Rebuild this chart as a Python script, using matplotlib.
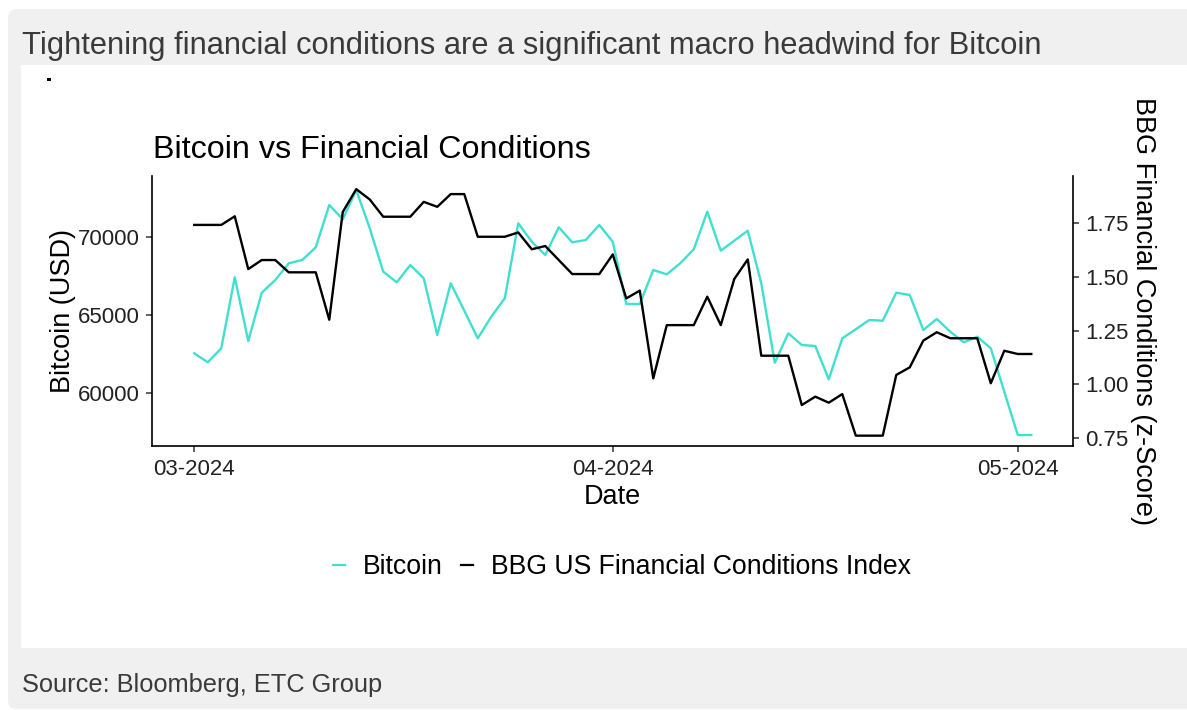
import matplotlib
matplotlib.use("Agg")
import matplotlib.pyplot as plt
import matplotlib.dates as mdates
from matplotlib.patches import FancyBboxPatch, Rectangle
from matplotlib.lines import Line2D
import pandas as pd

plt.rcParams["font.family"] = ["Liberation Sans", "DejaVu Sans"]

# daily values, 2024-03-01 .. 2024-05-02
dates = pd.date_range("2024-03-01", "2024-05-02", freq="D")

bitcoin = [
    62535, 61956, 62857, 67426, 63327, 66435, 67252, 68327, 68539, 69356,
    72079, 71158, 73044, 70579, 67786, 67104, 68217, 67362, 63712, 67040,
    65277, 63500, 64890, 66074, 70900, 69717, 68861, 70643, 69678, 69826,
    70792, 69717, 65708, 65708, 67896, 67617, 68327, 69228, 71647, 69138,
    69781, 70425, 67040, 61930, 63822, 63069, 63005, 60862, 63500, 64080,
    64678, 64633, 66435, 66287, 64035, 64742, 63925, 63243, 63603, 62857,
    60064, 57277, 57277,
]

bbg_fci = [
    1.740, 1.740, 1.740, 1.780, 1.535, 1.577, 1.577, 1.520, 1.520, 1.520,
    1.300, 1.800, 1.906, 1.858, 1.778, 1.778, 1.778, 1.847, 1.824, 1.883,
    1.883, 1.685, 1.685, 1.685, 1.705, 1.627, 1.642, 1.577, 1.512, 1.512,
    1.512, 1.603, 1.399, 1.435, 1.028, 1.275, 1.275, 1.275, 1.407, 1.275,
    1.489, 1.580, 1.133, 1.133, 1.133, 0.904, 0.943, 0.915, 0.955, 0.762,
    0.762, 0.762, 1.044, 1.079, 1.203, 1.242, 1.214, 1.214, 1.214, 1.005,
    1.156, 1.141, 1.141,
]

btc_ticks = [60000, 65000, 70000]
fci_ticks = [0.75, 1.00, 1.25, 1.50, 1.75]

TEAL = "#40E0D0"
GREY_BG = "#f0f0f0"
TXT = "#3a3a3a"

fig = plt.figure(figsize=(11.87, 7.10), dpi=100, facecolor="white")

# page background: grey rounded card with white chart panel
card = FancyBboxPatch((0.08, 0.01), 12.5, 7.0,
                      boxstyle="round,pad=0,rounding_size=0.09",
                      transform=fig.dpi_scale_trans,
                      facecolor=GREY_BG, edgecolor="none", zorder=-20)
fig.patches.append(card)
panel = Rectangle((0.21, 0.62), 12.0, 5.83, transform=fig.dpi_scale_trans,
                  facecolor="white", edgecolor="none", zorder=-19)
fig.patches.append(panel)
fig.add_artist(Rectangle((0.47, 6.29), 0.035, 0.03, transform=fig.dpi_scale_trans,
                         facecolor="black", edgecolor="none"))

fig.text(22 / 1187, 0.9235, "Tightening financial conditions are a significant macro headwind for Bitcoin",
         fontsize=22.2, color=TXT, ha="left", va="baseline")
fig.text(22 / 1187, 0.0258, "Source: Bloomberg, ETC Group",
         fontsize=18.3, color=TXT, ha="left", va="baseline")

ax = fig.add_axes([152 / 1187, 1 - 446 / 710, 921 / 1187, 270 / 710])
ax2 = ax.twinx()
for a in (ax, ax2):
    a.set_facecolor("none")
    a.spines["top"].set_visible(False)
    for s in a.spines.values():
        s.set_linewidth(1.2)
        s.set_color("black")

ax.plot(dates, bitcoin, color=TEAL, lw=1.7, label="Bitcoin")
ax2.plot(dates, bbg_fci, color="black", lw=1.7, label="BBG US Financial Conditions Index")

start = pd.Timestamp("2024-03-01")
ax.set_xlim(start - pd.Timedelta(days=3.13), start + pd.Timedelta(days=65.09))
ax.set_ylim(56570, 73945)
ax2.set_ylim(0.714, 1.967)

ax.xaxis.set_major_locator(mdates.MonthLocator())
ax.xaxis.set_major_formatter(mdates.DateFormatter("%m-%Y"))
ax.set_yticks(btc_ticks)
ax.set_yticklabels([str(t) for t in btc_ticks])
ax2.set_yticks(fci_ticks)
ax2.set_yticklabels([f"{t:.2f}" for t in fci_ticks])

ax.spines["right"].set_visible(False)
ax2.spines["left"].set_visible(False)
ax2.spines["bottom"].set_visible(False)

for a in (ax, ax2):
    a.tick_params(axis="both", length=4, width=1.1, color="#333333",
                  labelsize=16, labelcolor="#222222", pad=5)

ax.set_ylabel("Bitcoin (USD)", fontsize=19.5, color="black", va="center")
ax.yaxis.set_label_coords(-0.0966, 0.5)
ax.set_xlabel("Date", fontsize=19.5, color="black", va="center")
ax.xaxis.set_label_coords(0.5, -0.189)
ax2.set_ylabel("BBG Financial Conditions (z-Score)", fontsize=19.5, color="black",
               rotation=270, va="center")
ax2.yaxis.set_label_coords(1.076, 0.5)

fig.text(153 / 1187, 1 - 158 / 710, "Bitcoin vs Financial Conditions",
         fontsize=23.2, color="black", ha="left", va="baseline")

handles = [Line2D([], [], color=TEAL, lw=1.6), Line2D([], [], color="black", lw=1.6)]
labels = ["Bitcoin", "BBG US Financial Conditions Index"]
fig.legend(handles, labels, loc="center", bbox_to_anchor=(622 / 1187, 1 - 567 / 710),
           ncol=2, frameon=False, fontsize=19.2, handlelength=0.45, handletextpad=0.65,
           columnspacing=0.7)

fig.savefig("out.png", dpi=100, facecolor=fig.get_facecolor())
